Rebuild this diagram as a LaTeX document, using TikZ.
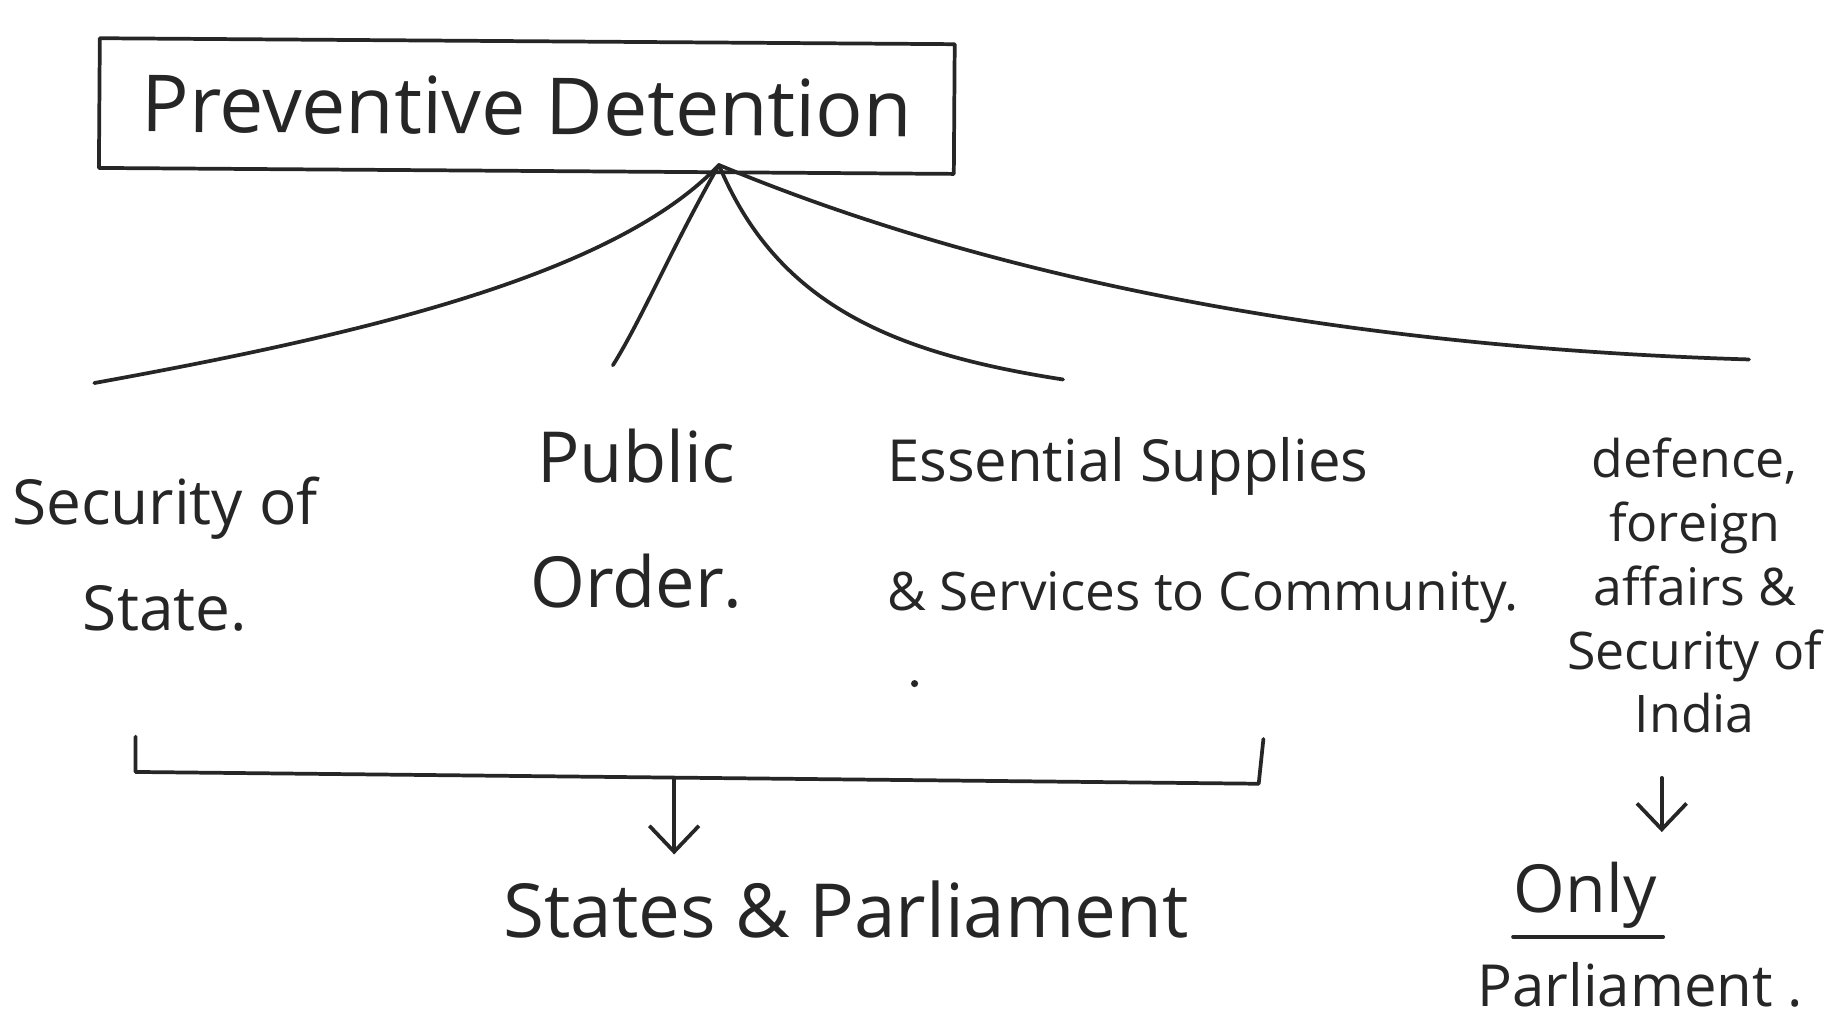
\documentclass[tikz,border=0pt]{standalone}
\usepackage{fontspec}
\setmainfont{Open Sans}
\usetikzlibrary{arrows.meta}
\begin{document}
\begin{tikzpicture}[x=0.01cm,y=-0.01cm,
  ink/.style={line width=0.9pt,draw=black!85,line cap=round,line join=round},
  lbl/.style={inner sep=0pt,align=center,text=black!85},
  vhead/.style={-{Straight Barb[length=0.22cm,width=0.42cm,line width=0.9pt]}}]
\useasboundingbox (0,0) rectangle (1568,870);
% title box
\node[lbl,draw,ink,minimum width=7.25cm,minimum height=1.1cm,rotate=-0.4,font=\fontsize{19}{22}\selectfont] (title) at (447,90)
  {Preventive Detention};
\coordinate (root) at (610,140);
% leaf ends
\coordinate (l1) at (80,325);
\coordinate (l2) at (520,310);
\coordinate (l3) at (902,322);
\coordinate (l4) at (1484,305);
\draw[ink] (root) .. controls (520,235) and (300,285) .. (l1);
\draw[ink] (root) .. controls (570,210) and (545,270) .. (l2);
\draw[ink] (root) .. controls (660,260) and (760,300) .. (l3);
\draw[ink] (root) .. controls (850,240) and (1150,295) .. (l4);
% labels
\node[lbl,font=\fontsize{15}{25.5}\selectfont] (sec) at (140,470) {Security of\\State.};
\node[lbl,font=\fontsize{17}{30}\selectfont] (pub) at (540,440) {Public\\Order.};
\node[lbl,align=left,anchor=west,font=\fontsize{14}{31}\selectfont] (ess) at (752,450) {Essential Supplies\\\fontsize{12.8}{31}\selectfont\& Services to Community.};
\fill[black!85] (776,580) circle (3);
\node[lbl,font=\fontsize{12.5}{15.4}\selectfont] (def) at (1438,497) {defence,\\foreign\\affairs \&\\Security of\\India};
% bracket
\coordinate (b1) at (115,625);
\coordinate (b2) at (115,655);
\coordinate (b3) at (1068,665);
\coordinate (b4) at (1072,627);
\coordinate (bm) at (572,661);
\draw[ink] (b1) -- (b2) -- (b3) -- (b4);
\node[lbl,font=\fontsize{18}{22}\selectfont] (sp) at (718,772) {States \& Parliament};
\draw[ink,vhead] (bm) -- (572,725);
% right branch
\node[lbl,font=\fontsize{16}{20}\selectfont] (only) at (1345,760) {Only};
\draw[ink] ([yshift=-0.06cm]only.south west) -- ([yshift=-0.06cm,xshift=0.05cm]only.south east);
\node[lbl,font=\fontsize{14}{20}\selectfont] (parl) at (1392,836) {Parliament .};
\coordinate (a2) at (1410,660);
\draw[ink,vhead] (a2) -- (1410,706);
\end{tikzpicture}
\end{document}
